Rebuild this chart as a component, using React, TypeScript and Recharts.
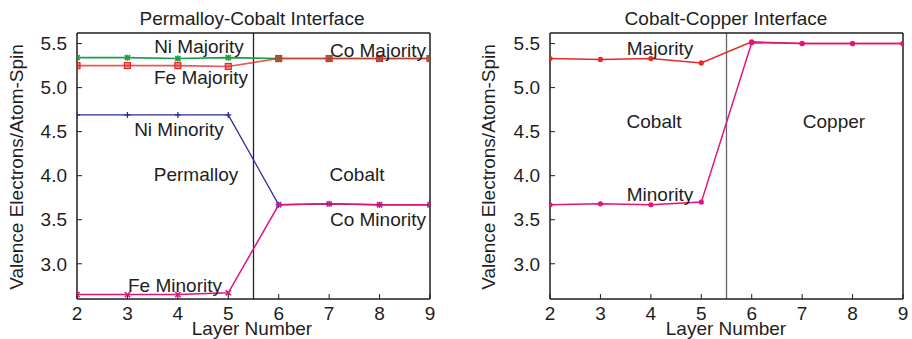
import React from 'react';
import { LineChart, Line, XAxis, YAxis, ReferenceLine } from 'recharts';

// ---------- data ----------
const layers = [2, 3, 4, 5, 6, 7, 8, 9];
const xTicks = [2, 3, 4, 5, 6, 7, 8, 9];
const yTicks = [3.0, 3.5, 4.0, 4.5, 5.0, 5.5];

// Permalloy-Cobalt interface
const niMajority = [5.34, 5.34, 5.33, 5.34, 5.33, 5.33, 5.33, 5.33];
const feMajority = [5.25, 5.25, 5.25, 5.24, 5.33, 5.33, 5.33, 5.33];
const niMinority = [4.69, 4.69, 4.69, 4.69, 3.67, 3.68, 3.67, 3.67];
const feMinority = [2.65, 2.65, 2.65, 2.67, 3.67, 3.68, 3.67, 3.67];

// Cobalt-Copper interface
const cuMajority = [5.33, 5.32, 5.33, 5.28, 5.52, 5.5, 5.5, 5.5];
const cuMinority = [3.67, 3.68, 3.67, 3.7, 5.51, 5.5, 5.5, 5.5];

const interfaceX = 5.5;

const leftData = layers.map((layer, i) => ({
  layer,
  niMaj: niMajority[i],
  feMaj: feMajority[i],
  niMin: niMinority[i],
  feMin: feMinority[i],
}));

const rightData = layers.map((layer, i) => ({
  layer,
  maj: cuMajority[i],
  min: cuMinority[i],
}));

// ---------- styles ----------
const FONT = '"Liberation Sans", Arial, Helvetica, sans-serif';
const FS = 19;
const INK = '#1e1e1e';
const GREEN = '#1a9e4a';
const RED = '#e52a2a';
const BLUE = '#2b2b9b';
const PINK = '#e0137f';

type Kind = 'star' | 'square' | 'plus' | 'cross' | 'dot';

const makeDot = (kind: Kind, color: string) => (props: any) => {
  const { cx, cy, index } = props;
  const k = 'dot-' + kind + '-' + index;
  if (cx == null || cy == null) return <g key={k} />;
  const s = 2.6;
  if (kind === 'square') {
    return (
      <g key={k}>
        <rect x={cx - 3} y={cy - 3} width={6} height={6} fill={color} fillOpacity={0.55} stroke={color} strokeWidth={1.2} />
      </g>
    );
  }
  if (kind === 'star') {
    return (
      <g key={k} stroke={color} strokeWidth={1.6}>
        <line x1={cx - 3} y1={cy} x2={cx + 3} y2={cy} />
        <line x1={cx} y1={cy - 3} x2={cx} y2={cy + 3} />
        <line x1={cx - s} y1={cy - s} x2={cx + s} y2={cy + s} />
        <line x1={cx - s} y1={cy + s} x2={cx + s} y2={cy - s} />
      </g>
    );
  }
  if (kind === 'plus') {
    return (
      <g key={k} stroke={color} strokeWidth={1.3}>
        <line x1={cx - 3} y1={cy} x2={cx + 3} y2={cy} />
        <line x1={cx} y1={cy - 3} x2={cx} y2={cy + 3} />
      </g>
    );
  }
  if (kind === 'cross') {
    return (
      <g key={k} stroke={color} strokeWidth={1.6}>
        <line x1={cx - s} y1={cy - s} x2={cx + s} y2={cy + s} />
        <line x1={cx - s} y1={cy + s} x2={cx + s} y2={cy - s} />
      </g>
    );
  }
  return (
    <g key={k}>
      <circle cx={cx} cy={cy} r={2.6} fill={color} />
    </g>
  );
};

const tickStyle = { fill: INK, fontSize: FS, fontFamily: FONT };
const axisLineStyle = { stroke: INK, strokeWidth: 1.5 };
const tickLineStyle = { stroke: INK, strokeWidth: 1 };

function Axes() {
  return null;
}

type SeriesDef = { key: string; color: string; kind: Kind; width?: number; opacity?: number };

function Panel(props: {
  data: any[];
  series: SeriesDef[];
  marginLeft: number;
  marginRight: number;
  divider: string;
}) {
  const { data, series, marginLeft, marginRight, divider } = props;
  return (
    <LineChart
      width={456}
      height={339}
      data={data}
      margin={{ top: 31, right: marginRight, bottom: 10, left: marginLeft }}
    >
      <XAxis
        dataKey="layer"
        type="number"
        domain={[2, 9]}
        ticks={xTicks}
        interval={0}
        height={30}
        tickSize={-5}
        tickMargin={13}
        tick={tickStyle}
        axisLine={axisLineStyle}
        tickLine={tickLineStyle}
        allowDataOverflow
      />
      <XAxis
        xAxisId="top"
        orientation="top"
        dataKey="layer"
        type="number"
        domain={[2, 9]}
        ticks={xTicks}
        interval={0}
        height={2}
        tickSize={-5}
        tick={false}
        axisLine={axisLineStyle}
        tickLine={tickLineStyle}
        allowDataOverflow
      />
      <YAxis
        type="number"
        domain={[2.6, 5.62]}
        ticks={yTicks}
        interval={0}
        width={60}
        tickSize={-5}
        tickMargin={15}
        tick={tickStyle}
        tickFormatter={(v: number) => v.toFixed(1)}
        axisLine={axisLineStyle}
        tickLine={tickLineStyle}
        allowDataOverflow
      />
      <YAxis
        yAxisId="right"
        orientation="right"
        type="number"
        domain={[2.6, 5.62]}
        ticks={yTicks}
        interval={0}
        width={2}
        tickSize={-5}
        tick={false}
        axisLine={axisLineStyle}
        tickLine={tickLineStyle}
        allowDataOverflow
      />
      <ReferenceLine x={interfaceX} stroke={divider} strokeWidth={1.3} />
      {series.map((s) => (
        <Line
          key={s.key}
          dataKey={s.key}
          type="linear"
          stroke={s.color}
          strokeWidth={s.width ?? 1.3}
          strokeOpacity={s.opacity ?? 1}
          dot={makeDot(s.kind, s.color)}
          activeDot={false}
          isAnimationActive={false}
        />
      ))}
    </LineChart>
  );
}

type Note = { t: string; x: number; y: number; anchor?: 'middle' | 'start' | 'end' };

const notes: Note[] = [
  { t: 'Permalloy-Cobalt Interface', x: 252, y: 25 },
  { t: 'Cobalt-Copper Interface', x: 726, y: 25 },
  { t: 'Ni Majority', x: 199, y: 53 },
  { t: 'Co Majority', x: 378, y: 57 },
  { t: 'Fe Majority', x: 201, y: 84 },
  { t: 'Ni Minority', x: 179, y: 136 },
  { t: 'Permalloy', x: 196, y: 181 },
  { t: 'Cobalt', x: 357, y: 181 },
  { t: 'Co Minority', x: 378, y: 226 },
  { t: 'Fe Minority', x: 175, y: 292 },
  { t: 'Layer Number', x: 252, y: 335 },
  { t: 'Majority', x: 660, y: 55 },
  { t: 'Cobalt', x: 654, y: 128 },
  { t: 'Copper', x: 834, y: 128 },
  { t: 'Minority', x: 660, y: 201 },
  { t: 'Layer Number', x: 726, y: 335 },
];

export default function App() {
  return (
    <div style={{ position: 'absolute', left: 0, top: 0, width: 912, height: 339, background: '#fff', overflow: 'hidden' }}>
      <div style={{ position: 'absolute', left: 0, top: 0 }}>
        <Panel
          data={leftData}
          marginLeft={17}
          marginRight={24}
          divider="#222"
          series={[
            { key: 'niMaj', color: GREEN, kind: 'star', width: 1.6 },
            { key: 'niMin', color: BLUE, kind: 'plus' },
            { key: 'feMaj', color: RED, kind: 'square', width: 1.6, opacity: 0.8 },
            { key: 'feMin', color: PINK, kind: 'cross', width: 1.5 },
          ]}
        />
      </div>
      <div style={{ position: 'absolute', left: 456, top: 0 }}>
        <Panel
          data={rightData}
          marginLeft={34}
          marginRight={7}
          divider="#666"
          series={[
            { key: 'maj', color: RED, kind: 'dot', width: 1.5 },
            { key: 'min', color: PINK, kind: 'dot', width: 1.5 },
          ]}
        />
      </div>
      <svg
        width={912}
        height={339}
        style={{ position: 'absolute', left: 0, top: 0, pointerEvents: 'none' }}
      >
        {notes.map((n, i) => (
          <text
            key={i}
            x={n.x}
            y={n.y}
            textAnchor={n.anchor ?? 'middle'}
            fontFamily={FONT}
            fontSize={FS}
            fill={INK}
          >
            {n.t}
          </text>
        ))}
        <text
          transform="translate(23,167) rotate(-90)"
          textAnchor="middle"
          fontFamily={FONT}
          fontSize={FS}
          fill={INK}
        >
          Valence Electrons/Atom-Spin
        </text>
        <text
          transform="translate(495,167) rotate(-90)"
          textAnchor="middle"
          fontFamily={FONT}
          fontSize={FS}
          fill={INK}
        >
          Valence Electrons/Atom-Spin
        </text>
      </svg>
    </div>
  );
}
